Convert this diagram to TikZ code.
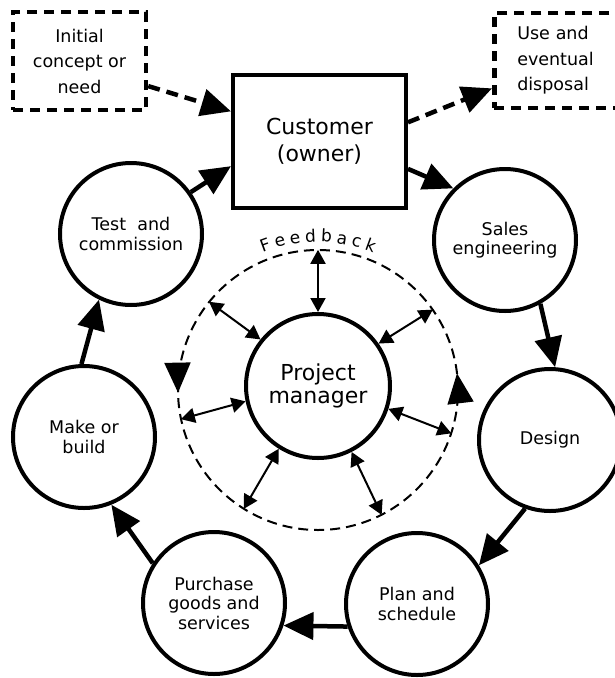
\documentclass[tikz,border=0pt]{standalone}
\usepackage{fontspec}
\setmainfont{DejaVu Sans}
\usetikzlibrary{arrows.meta,decorations.text,decorations.markings,calc}
\begin{document}
\begin{tikzpicture}[x=1pt,y=1pt,
  stage/.style={circle, draw, line width=4pt, minimum size=142pt, inner sep=0pt, align=center, font=\fontsize{17.5}{19.5}\selectfont},
  dbox/.style={draw, line width=4.5pt, dash pattern=on 10pt off 7pt, font=\fontsize{17.5}{25.5}\selectfont},
  flow/.style={line width=4.5pt, -{Triangle[length=30pt,width=27pt]}},
  dflow/.style={flow, dash pattern=on 12pt off 7pt},
  fbarrow/.style={line width=2pt, {Triangle[length=14pt,width=15pt]}-{Triangle[length=14pt,width=15pt]}},
  bigtip/.style={Triangle[length=30pt,width=26pt]}
  ]
\useasboundingbox (0,0) rectangle (615,-678);
\clip (0,0) rectangle (615,-678);
\fill[white] (0,0) rectangle (615,-678);

% boxes
\node[draw, line width=4pt, minimum width=173pt, minimum height=133pt, align=center,
      font=\fontsize{22}{27}\selectfont] (cust) at (319.5,-141.5) {Customer\\(owner)};
\node[dbox, minimum width=133pt, minimum height=98pt, align=center] (init) at (79.5,-61) {Initial\\concept or\\need};
\node[dbox, anchor=west, text width=100pt, inner xsep=23pt, minimum height=95pt, align=left] (use) at (492,-60.5) {Use and\\eventual\\disposal};

% stages
\node[stage] (test) at (131,-234) {Test\ \ and\\commission};
\node[stage] (sales) at (505,-240) {Sales\\engineering};
\node[stage] (design) at (550,-440) {Design};
\node[stage] (plan) at (417,-604) {Plan and\\schedule};
\node[stage] (purch) at (214,-603) {Purchase\\goods and\\services};
\node[stage] (make) at (84,-437) {Make or\\build};
\node[stage, minimum size=144pt, font=\fontsize{22}{23}\selectfont] (pm) at (318,-386) {Project\\manager};

% feedback ring
\node[circle, minimum size=280pt, inner sep=0pt] (fb) at (318,-390) {};
\draw[line width=2pt, dash pattern=on 10pt off 6pt, postaction={decorate},
      decoration={markings,
        mark=at position 0.019 with {\arrow{Triangle[length=30pt,width=26pt]}},
        mark=at position 0.503 with {\arrow{Triangle[length=30pt,width=26pt]}}}]
      (fb.center) circle[radius=140pt];
\path[decorate, decoration={text along path, text align=fit to path,
      text={|\fontsize{17}{17}\selectfont|Feedback}}]
      (fb.center) ++(112:148) arc[start angle=112, end angle=68, radius=148pt];
\foreach \a in {90,141,35,192,-18,-122,-63}
  \draw[fbarrow] (pm.\a) -- (fb.\a);

% cycle
\draw[flow] (test.35) -- ($(cust.south west)!0.32!(cust.north west)$);
\draw[flow] ($(cust.south east)!0.3!(cust.north east)$) -- (sales.135);
\draw[flow] (sales.-61) -- (design.86);
\draw[flow] (design.250) -- (plan.32);
\draw[flow] (plan.198) -- (purch.-18);
\draw[flow] (purch.147) -- (make.-68);
\draw[flow] (make.92) -- (test.244);
\draw[dflow] ($(init.south east)!0.255!(init.north east)$) -- ($(cust.south west)!0.72!(cust.north west)$);
\draw[dflow] ($(cust.south east)!0.64!(cust.north east)$) -- ($(use.south west)!0.22!(use.north west)$);
\end{tikzpicture}
\end{document}
